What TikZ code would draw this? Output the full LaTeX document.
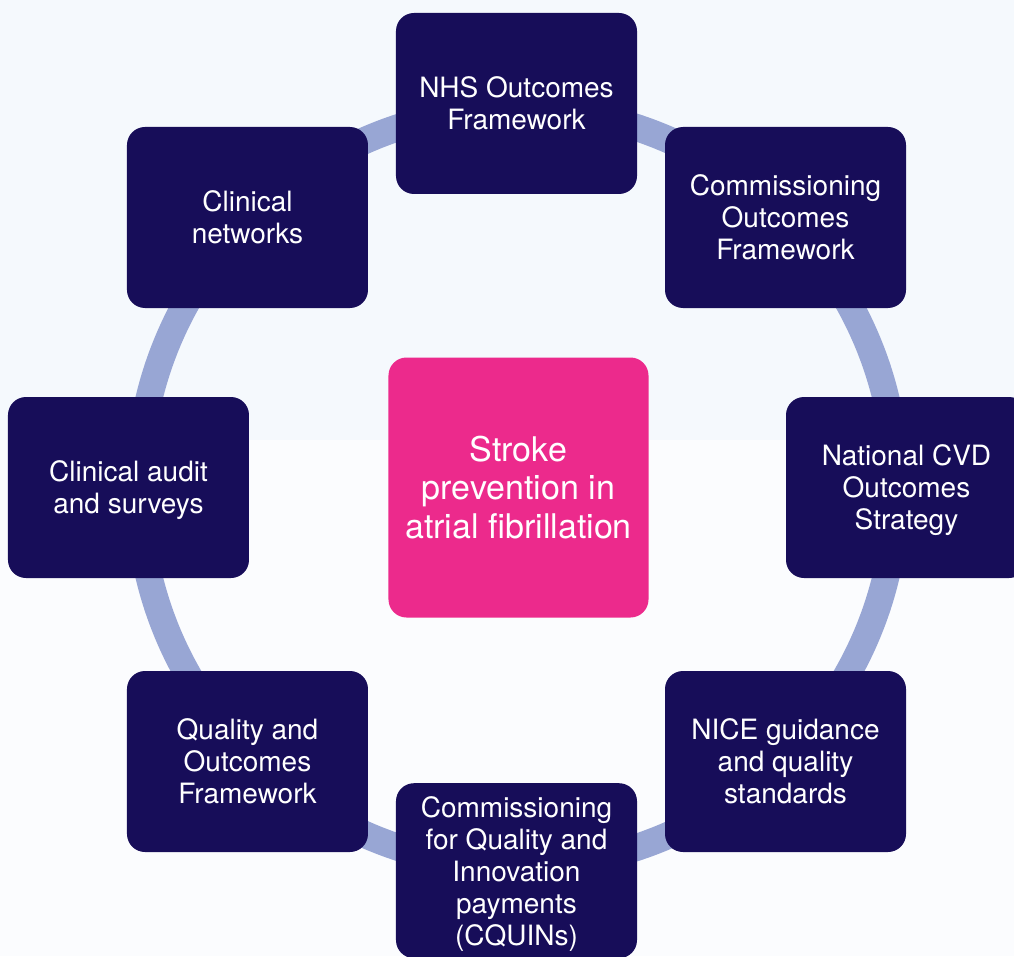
\documentclass[tikz,border=0pt]{standalone}
\usepackage{fontspec}
\setmainfont{TeX Gyre Heros}
\usetikzlibrary{positioning}

\definecolor{navy}{HTML}{170D59}
\definecolor{hubpink}{HTML}{EC2A8C}
\definecolor{ringblue}{HTML}{98A6D4}
\definecolor{paletop}{HTML}{F5F9FD}
\definecolor{palebottom}{HTML}{FBFCFE}

% taller first line, pushes the text block down a little
\newcommand{\topicstrut}{\rule{0pt}{37pt}}

\begin{document}
\begin{tikzpicture}[
    x=1pt, y=1pt,
    ring/.style={
        draw=ringblue,
        line width=27pt,
    },
    topic/.style={
        rectangle,
        rounded corners=18pt,
        fill=navy,
        text=white,
        minimum width=241pt,
        minimum height=181pt,
        inner sep=8pt,
        text depth=0pt,
        align=center,
        font=\fontsize{28}{32}\selectfont,
        execute at begin node=\topicstrut,
    },
    hub/.style={
        rectangle,
        rounded corners=18pt,
        fill=hubpink,
        text=white,
        minimum size=260pt,
        align=center,
        font=\fontsize{34}{38.5}\selectfont,
    }
]
    \useasboundingbox (-517.5,-468.5) rectangle (496.5,487.5);

    % Background
    \fill[palebottom] (-517.5,-468.5) rectangle (496.5,487.5);
    \fill[paletop] (-517.5,47.5) rectangle (496.5,487.5);

    % Ring
    \draw[ring] (0,0) circle[radius=379];

    % Topics around the ring
    \foreach \pos/\name/\txt in {
        {(-1,384)}/nhs/{NHS Outcomes\\Framework},
        {(268,270)}/coframe/{Commissioning\\Outcomes\\Framework},
        {(389,0)}/cvd/{National CVD\\Outcomes\\Strategy},
        {(268,-274)}/nice/{NICE guidance\\and quality\\standards},
        {(-270,-274)}/qof/{Quality and\\Outcomes\\Framework},
        {(-389,0)}/audit/{Clinical audit\\and surveys},
        {(-270,270)}/networks/{Clinical\\networks}}
        \node[topic] (\name) at \pos {\txt};

    \node[topic, minimum height=175pt, anchor=north] (cquin) at (-1,-295.5)
        {Commissioning\\for Quality and\\Innovation\\payments\\(CQUINs)};

    % Centre
    \node[hub] (stroke) at (1,0) {Stroke\\prevention in\\atrial fibrillation};
\end{tikzpicture}
\end{document}
